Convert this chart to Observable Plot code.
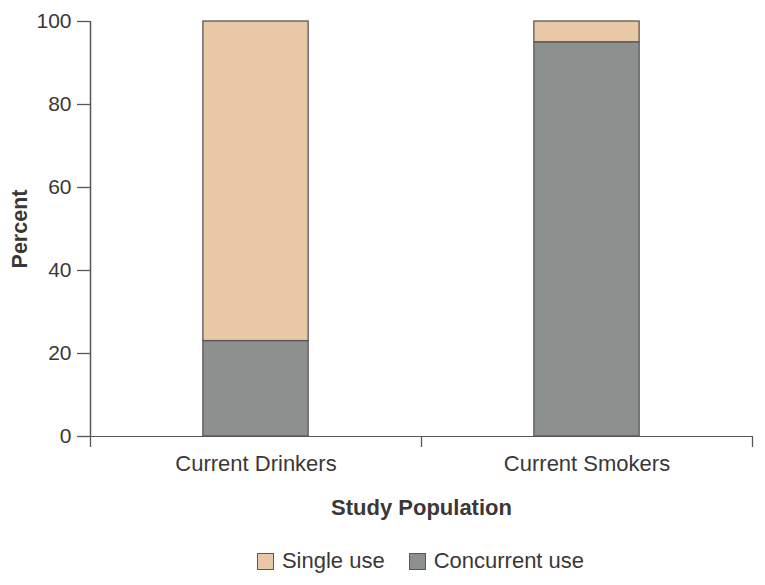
<!DOCTYPE html>
<html>
<head>
<meta charset="utf-8">
<script src="https://cdn.jsdelivr.net/npm/d3@7"></script>
<script src="https://cdn.jsdelivr.net/npm/@observablehq/plot@0.6"></script>
<style>
  body { margin: 0; background: #fff; font-family: "Liberation Sans", Arial, sans-serif; color: #3b3737; }
  #legend { display: flex; justify-content: center; align-items: center; gap: 24px; font-size: 22px; margin-top: 18px; padding-left: 76px; width: 765px; box-sizing: border-box; }
  .item { display: flex; align-items: center; gap: 8px; }
  .sw { width: 17px; height: 17px; border: 1.3px solid #5c5757; box-sizing: border-box; }
</style>
</head>
<body>
<div id="chart"></div>
<div id="legend"></div>
<script>
const categories = ["Current Drinkers", "Current Smokers"];
const seriesNames = ["Single use", "Concurrent use"];
const singleUse = [77, 5];
const concurrentUse = [23, 95];
const yTicks = [0, 20, 40, 60, 80, 100];
const colors = ["#e9c8a8", "#8c9190"];

const rows = [];
categories.forEach((c, i) => {
  rows.push({idx: i, category: c, series: "Concurrent use", value: concurrentUse[i]});
  rows.push({idx: i, category: c, series: "Single use", value: singleUse[i]});
});

const half = 0.159;
const textColor = "#3b3737";
const axisColor = "#5a5656";

const chart = Plot.plot({
  width: 765,
  height: 530,
  marginTop: 21,
  marginLeft: 90,
  marginRight: 13,
  marginBottom: 94,
  style: {fontFamily: "'Liberation Sans', Arial, sans-serif", fontSize: "21px", color: textColor, background: "#fff"},
  x: {domain: [0, categories.length], axis: null},
  y: {domain: [0, 100], axis: null},
  color: {domain: seriesNames, range: colors},
  marks: [
    Plot.ruleY([0], {stroke: axisColor, strokeWidth: 1.2}),
    Plot.ruleX([0], {stroke: axisColor, strokeWidth: 1.5}),
    Plot.rectY(rows, Plot.stackY({
      x1: d => d.idx + 0.5 - half,
      x2: d => d.idx + 0.5 + half,
      y: "value",
      fill: "series",
      order: ["Concurrent use", "Single use"],
      stroke: "#5c5757",
      strokeWidth: 1.3
    })),
    Plot.axisY({ticks: yTicks, tickSize: 13, tickPadding: 6, label: null, stroke: axisColor, strokeWidth: 1.3, fill: textColor, fontSize: 21}),
    Plot.axisX({ticks: d3.range(categories.length + 1), tickSize: 11, tickFormat: () => "", label: null, stroke: axisColor, strokeWidth: 1.3}),
    Plot.axisX({ticks: categories.map((c, i) => i + 0.5), tickSize: 0, tickPadding: 19, tickFormat: v => categories[Math.floor(v)], label: null, fill: textColor, fontSize: 22}),
    Plot.text(["Study Population"], {frameAnchor: "bottom", dy: 71, lineAnchor: "middle", textAnchor: "middle", fontWeight: "bold", fill: textColor, fontSize: 22}),
    Plot.text(["Percent"], {frameAnchor: "left", dx: -70, rotate: -90, lineAnchor: "middle", textAnchor: "middle", fontWeight: "bold", fill: textColor, fontSize: 21.5})
  ]
});
document.getElementById("chart").append(chart);

const legend = document.getElementById("legend");
seriesNames.forEach((s, i) => {
  const item = document.createElement("div");
  item.className = "item";
  const sw = document.createElement("div");
  sw.className = "sw";
  sw.style.background = colors[i];
  const t = document.createElement("span");
  t.textContent = s;
  item.append(sw, t);
  legend.append(item);
});
</script>
</body>
</html>
